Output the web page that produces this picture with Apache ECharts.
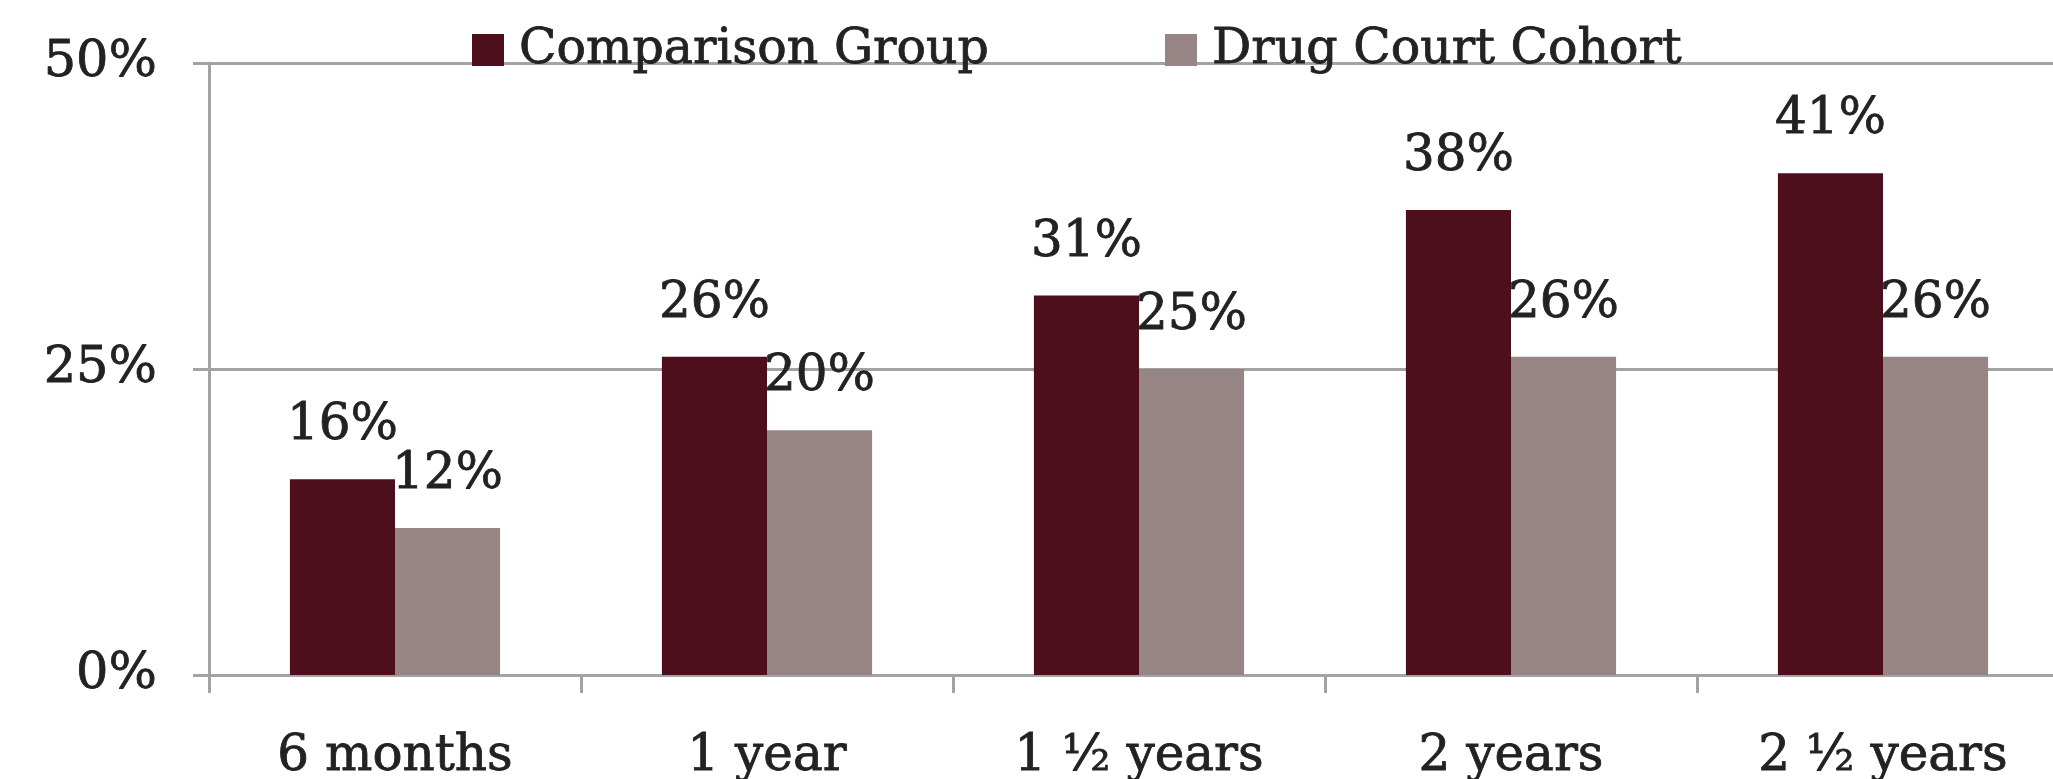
<!DOCTYPE html>
<html>
<head>
<meta charset="utf-8">
<style>
  html, body { margin: 0; padding: 0; background: #ffffff; }
  #chart { width: 2053px; height: 779px; }
</style>
<script src="https://cdn.jsdelivr.net/npm/echarts@6/dist/echarts.min.js"></script>
</head>
<body>
<div id="chart"></div>
<script>
const categories = ['6 months', '1 year', '1 \u00bd years', '2 years', '2 \u00bd years'];
const comparisonGroup = [16, 26, 31, 38, 41];
const drugCourtCohort = [12, 20, 25, 26, 26];
const yTicks = [0, 25, 50];
const seriesNames = ['Comparison Group', 'Drug Court Cohort'];

const FONT = 'DejaVu Serif';
const TEXT = '#222222';
const AXIS = '#a3a3a3';

const chart = echarts.init(document.getElementById('chart'), null, { renderer: 'canvas' });

const boldish = { textBorderColor: TEXT, textBorderWidth: 0.8 };

const labelStyle = Object.assign({
  show: true,
  position: 'top',
  distance: 28,
  formatter: p => p.value + '%',
  fontFamily: FONT,
  fontSize: 50,
  color: TEXT
}, boldish);

const legendText = Object.assign({ fontFamily: FONT, fontSize: 49, color: TEXT, padding: [0, 0, 0, 10] }, boldish);

chart.setOption({
  animation: false,
  backgroundColor: '#ffffff',
  grid: { left: 209, top: 63, bottom: 104, width: 1860, containLabel: false, outerBoundsMode: 'none' },
  legend: [
    {
      data: [seriesNames[0]],
      left: 467, top: 20,
      itemWidth: 32, itemHeight: 32,
      icon: 'rect',
      textStyle: legendText
    },
    {
      data: [seriesNames[1]],
      left: 1160, top: 20,
      itemWidth: 32, itemHeight: 32,
      icon: 'rect',
      textStyle: legendText
    }
  ],
  xAxis: {
    type: 'category',
    data: categories,
    axisLine: { show: true, lineStyle: { color: AXIS, width: 3 } },
    axisTick: { show: true, length: 18, interval: 0, lineStyle: { color: AXIS, width: 3 } },
    axisLabel: Object.assign({ interval: 0, fontFamily: FONT, fontSize: 50, color: TEXT, margin: 57 }, boldish)
  },
  yAxis: {
    type: 'value',
    min: yTicks[0], max: yTicks[yTicks.length - 1], interval: 25,
    axisLine: { show: true, lineStyle: { color: AXIS, width: 3 } },
    axisTick: { show: true, length: 16, lineStyle: { color: AXIS, width: 3 } },
    splitLine: { show: true, lineStyle: { color: AXIS, width: 3 } },
    axisLabel: Object.assign({ fontFamily: FONT, fontSize: 51, color: TEXT, margin: 52, formatter: v => v + '%' }, boldish)
  },
  series: [
    {
      name: seriesNames[0],
      type: 'bar',
      data: comparisonGroup,
      barGap: '0%',
      barCategoryGap: '43.5%',
      itemStyle: { color: '#4c0f1b' },
      label: labelStyle
    },
    {
      name: seriesNames[1],
      type: 'bar',
      data: drugCourtCohort,
      barGap: '0%',
      barCategoryGap: '43.5%',
      itemStyle: { color: '#978585' },
      label: labelStyle
    }
  ]
});
</script>
</body>
</html>
